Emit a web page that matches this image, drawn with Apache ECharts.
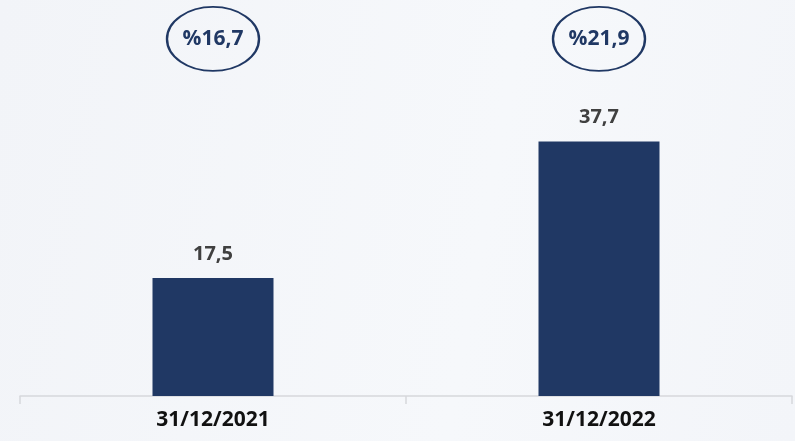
<!DOCTYPE html>
<html>
<head>
<meta charset="utf-8">
<script src="https://cdn.jsdelivr.net/npm/echarts@6/dist/echarts.min.js"></script>
<style>
  html, body { margin: 0; padding: 0; }
  #chart { width: 795px; height: 441px; background: linear-gradient(100deg, #f2f4f8 0%, #f6f8fb 60%, #f3f5f9 100%); }
</style>
</head>
<body>
<div id="chart"></div>
<script>
const categories = ['31/12/2021', '31/12/2022']
const values = [17.5, 37.7]
const ratios = ['16,7', '21,9']
// height (in axis units) where the ratio ellipses sit
const ratioLevel = [52.9, 52.9]

const navy = '#203864'
const font = '"Open Sans", "Liberation Sans", sans-serif'

let mychart = echarts.init(document.getElementById('chart'))
let option = {
  animation: false,
  grid: {
    left: 20,
    right: 3,
    top: 0,
    bottom: 45,
  },
  xAxis: {
    type: 'category',
    data: categories,
    axisLine: {
      lineStyle: { color: '#d6d8dc', width: 1.5 },
    },
    axisTick: {
      show: true,
      alignWithLabel: false,
      interval: 0,
      length: 8,
      lineStyle: { color: '#d6d8dc', width: 1.5 },
    },
    axisLabel: {
      color: '#111111',
      fontFamily: font,
      fontWeight: 'bold',
      fontSize: 21,
      margin: 14,
    },
  },
  yAxis: {
    type: 'value',
    min: 0,
    max: 58.67,
    show: false,
    splitLine: { show: false },
  },
  series: [
    {
      type: 'bar',
      data: values,
      barWidth: 121,
      itemStyle: { color: navy },
      label: {
        show: true,
        position: 'top',
        distance: 14,
        color: '#404040',
        fontFamily: font,
        fontWeight: 'bold',
        fontSize: 20,
        formatter: (p) => String(p.value).replace('.', ','),
      },
    },
    {
      type: 'scatter',
      data: ratioLevel,
      symbol: 'circle',
      symbolSize: [92, 64],
      itemStyle: {
        opacity: 1,
        color: 'rgba(0,0,0,0)',
        borderColor: navy,
        borderWidth: 2,
      },
      label: {
        show: true,
        position: 'inside',
        color: navy,
        fontFamily: font,
        fontWeight: 'bold',
        fontSize: 21,
        formatter: (p) => '%' + ratios[p.dataIndex],
      },
    },
  ],
}
mychart.setOption(option)
window.addEventListener('resize', () => {
  mychart.resize()
})
</script>
</body>
</html>
